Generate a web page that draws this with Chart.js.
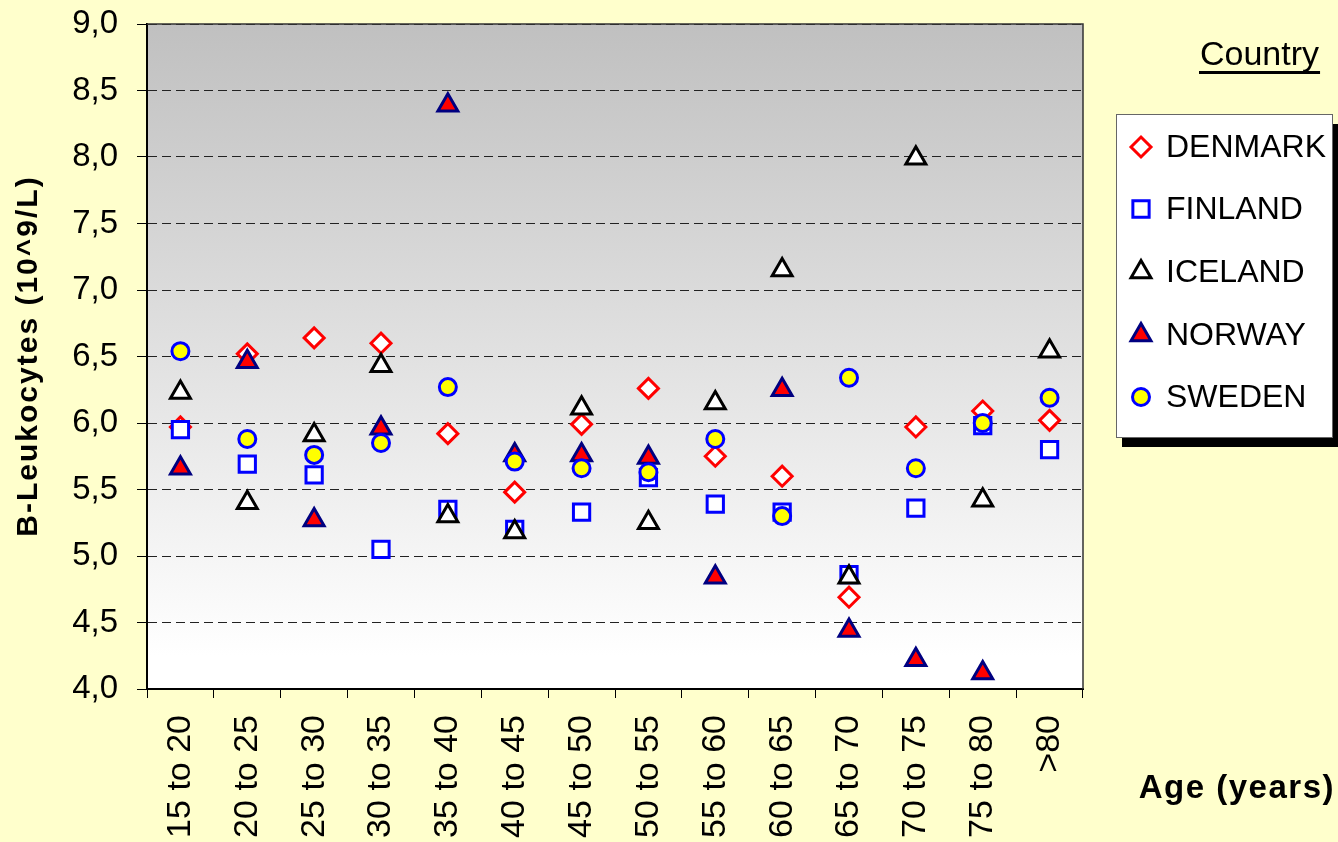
<script src="https://cdn.jsdelivr.net/npm/chart.js"></script>
<style>
  html, body { margin: 0; padding: 0; background: #FFFFCC; }
  #wrap { width: 1338px; height: 842px; position: relative; }
</style>
<div id="wrap">
  <canvas id="myChart"></canvas>
</div>
<script>

    const ages = ['15 to 20', '20 to 25', '25 to 30', '30 to 35', '35 to 40', '40 to 45', '45 to 50',
                  '50 to 55', '55 to 60', '60 to 65', '65 to 70', '70 to 75', '75 to 80', '>80'];

    const denmark = [5.97, 6.52, 6.64, 6.60, 5.92, 5.48, 5.99, 6.26, 5.75, 5.60, 4.69, 5.97, 6.09, 6.02];
    const finland = [5.95, 5.69, 5.61, 5.05, 5.35, 5.20, 5.33, 5.59, 5.39, 5.33, 4.86, 5.36, 5.98, 5.80];
    const iceland = [6.23, 5.40, 5.91, 6.43, 5.30, 5.18, 6.11, 5.25, 6.15, 7.15, 4.84, 7.99, 5.42, 6.54];
    const norway  = [5.66, 6.46, 5.27, 5.96, 8.39, 5.76, 5.76, 5.74, 4.84, 6.25, 4.44, 4.22, 4.12, null];
    const sweden  = [6.54, 5.88, 5.76, 5.85, 6.27, 5.71, 5.66, 5.63, 5.88, 5.30, 6.34, 5.66, 6.00, 6.19];

    const yMin = 4, yMax = 9, yStep = 0.5;

    const FONT = "'Liberation Sans', Arial, sans-serif";

    function marker(label, values, style, radius, fill, stroke, order) {
        return {
            label: label,
            data: values,
            showLine: false,
            pointStyle: style,
            pointRadius: radius,
            pointHoverRadius: radius,
            pointBackgroundColor: fill,
            pointBorderColor: stroke,
            pointBorderWidth: 3,
            order: order
        }
    }

    const data = {
        labels: ages,
        datasets: [
            marker('DENMARK', denmark, 'rectRot', 10, '#FFFFFF', '#FF0000', 5),
            marker('FINLAND', finland, 'rect', 11.5, '#FFFFFF', '#0000FF', 4),
            marker('ICELAND', iceland, 'triangle', 11.5, '#FFFFFF', '#000000', 3),
            marker('NORWAY', norway, 'triangle', 11.5, '#FF0000', '#000080', 2),
            marker('SWEDEN', sweden, 'circle', 8.5, '#FFFF00', '#0000FF', 1)
        ]
    };

    function drawMarker(ctx, ds, x, y) {
        ctx.save()
        ctx.fillStyle = ds.pointBackgroundColor
        ctx.strokeStyle = ds.pointBorderColor
        ctx.lineWidth = ds.pointBorderWidth
        if (Chart.helpers && Chart.helpers.drawPoint) {
            Chart.helpers.drawPoint(ctx, {pointStyle: ds.pointStyle, radius: ds.pointRadius, borderWidth: ds.pointBorderWidth, rotation: 0}, x, y)
        } else {
            ctx.beginPath()
            ctx.arc(x, y, ds.pointRadius, 0, Math.PI * 2)
            ctx.fill()
            ctx.stroke()
        }
        ctx.restore()
    }

    const decor = {
        id: 'decor',
        beforeDraw(chart) {
            const {ctx, chartArea: {top, bottom, left, right}} = chart
            ctx.save()
            ctx.fillStyle = '#FFFFCC'
            ctx.fillRect(0, 0, chart.width, chart.height)
            const g = ctx.createLinearGradient(0, top, 0, bottom)
            g.addColorStop(0, '#C0C0C0')
            g.addColorStop(0.95, '#FFFFFF')
            g.addColorStop(1, '#FFFFFF')
            ctx.fillStyle = g
            ctx.fillRect(left, top, right - left, bottom - top)
            ctx.restore()
        },
        afterDraw(chart) {
            const {ctx, chartArea: {top, bottom, left, right}} = chart
            ctx.save()

            // frame top / right
            ctx.strokeStyle = '#333333'
            ctx.lineWidth = 1.5
            ctx.beginPath()
            ctx.moveTo(left, top)
            ctx.lineTo(right, top)
            ctx.lineTo(right, bottom)
            ctx.stroke()

            ctx.fillStyle = '#000'

            // y title
            ctx.save()
            ctx.translate(29, 356)
            ctx.rotate(-Math.PI / 2)
            ctx.font = 'bold 30px ' + FONT
            ctx.letterSpacing = '2px'
            ctx.textAlign = 'center'
            ctx.textBaseline = 'middle'
            ctx.fillText('B-Leukocytes (10^9/L)', 0, 0)
            ctx.restore()

            // x title
            ctx.save()
            ctx.font = 'bold 33px ' + FONT
            ctx.letterSpacing = '1.5px'
            ctx.textAlign = 'right'
            ctx.textBaseline = 'alphabetic'
            ctx.fillText('Age (years)', 1335, 798)
            ctx.restore()

            // legend title
            ctx.font = '34px ' + FONT
            ctx.textAlign = 'left'
            ctx.textBaseline = 'alphabetic'
            ctx.fillText('Country', 1200, 65)
            const w = ctx.measureText('Country').width
            ctx.fillRect(1199, 71, w + 2, 3)

            // legend box with shadow
            const bx = 1116, by = 114, bw = 216, bh = 323
            ctx.fillStyle = '#000'
            ctx.fillRect(bx + 6, by + 10, bw, bh)
            ctx.fillStyle = '#FFFFFF'
            ctx.fillRect(bx, by, bw, bh)
            ctx.strokeStyle = '#666666'
            ctx.lineWidth = 1
            ctx.strokeRect(bx + 0.5, by + 0.5, bw, bh)

            const rows = [147, 209, 272, 335, 397]
            ctx.font = '32px ' + FONT
            ctx.textBaseline = 'middle'
            chart.data.datasets.forEach((ds, i) => {
                drawMarker(ctx, ds, 1141, rows[i])
                ctx.fillStyle = '#000'
                ctx.fillText(ds.label, 1166, rows[i] + 1)
            })

            ctx.restore()
        }
    };

    const config = {
        type: 'line',
        data,
        options: {
            responsive: true,
            maintainAspectRatio: false,
            animation: false,
            events: [],
            layout: {
                padding: {top: 24, right: 255, left: 0, bottom: 0}
            },
            plugins: {
                legend: {display: false},
                tooltip: {enabled: false}
            },
            scales: {
                x: {
                    offset: true,
                    grid: {
                        offset: true,
                        drawOnChartArea: false,
                        drawTicks: true,
                        tickLength: 9,
                        color: '#000',
                        tickBorderDash: []
                    },
                    border: {color: '#000', width: 2},
                    ticks: {
                        autoSkip: false,
                        maxRotation: 90,
                        minRotation: 90,
                        padding: 17,
                        color: '#000',
                        font: {family: FONT, size: 34}
                    },
                    afterFit(scale) {
                        scale.height = 153
                        scale.paddingLeft = 0
                        scale.paddingRight = 0
                    }
                },
                y: {
                    min: yMin,
                    max: yMax,
                    grid: {
                        color: '#222',
                        lineWidth: 1,
                        tickLength: 10,
                        tickColor: '#000',
                        tickBorderDash: []
                    },
                    border: {color: '#000', width: 2, dash: [9, 5]},
                    ticks: {
                        stepSize: yStep,
                        padding: 19,
                        color: '#000',
                        font: {family: FONT, size: 33},
                        callback: (v) => v.toFixed(1).replace('.', ',')
                    },
                    afterFit(scale) {
                        scale.width = 147
                        scale.paddingTop = 0
                        scale.paddingBottom = 0
                    }
                }
            }
        },
        plugins: [decor]
    };

    const myChart = new Chart(document.getElementById('myChart'), config);
</script>
